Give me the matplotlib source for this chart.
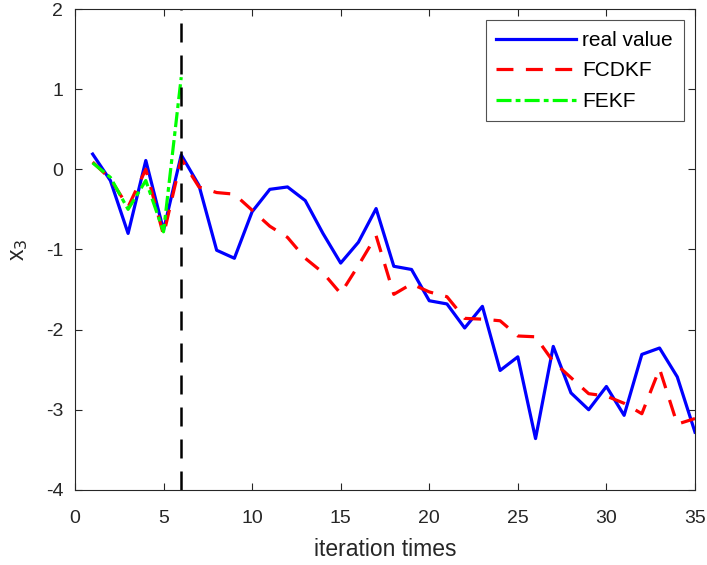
import matplotlib
matplotlib.use('Agg')
import matplotlib.pyplot as plt
import numpy as np

plt.rcParams['font.family'] = ['Liberation Sans', 'DejaVu Sans']
plt.rcParams['axes.unicode_minus'] = False

# real value (x = 1..35)
k = np.arange(1, 36)
real_value = [0.19, -0.14, -0.80, 0.11, -0.76, 0.18, -0.20, -1.01, -1.11, -0.53,
              -0.25, -0.22, -0.39, -0.80, -1.17, -0.91, -0.49, -1.21, -1.25, -1.64,
              -1.68, -1.98, -1.71, -2.51, -2.34, -3.36, -2.21, -2.79, -3.00, -2.71,
              -3.07, -2.31, -2.23, -2.59, -3.28]

fcdkf = [0.09, -0.12, -0.47, 0.00, -0.82, 0.13, -0.22, -0.29, -0.31, -0.51,
         -0.71, -0.85, -1.11, -1.29, -1.55, -1.20, -0.83, -1.56, -1.43, -1.53,
         -1.59, -1.86, -1.87, -1.89, -2.08, -2.09, -2.40, -2.60, -2.80, -2.83,
         -2.92, -3.05, -2.49, -3.18, -3.11]

k_fekf = np.arange(1, 7)
fekf = [0.08, -0.10, -0.50, -0.14, -0.78, 1.15]

switch_x = 6

fig = plt.figure(figsize=(7.07, 5.65), dpi=100)
ax = fig.add_axes([0.106, 0.133, 0.877, 0.851])

ax.plot(k, real_value, color='#0000ff', lw=2.3, label='real value')
ax.plot(k, fcdkf, color='#ff0000', lw=2.3, dashes=(5.3, 3.9), label='FCDKF')
ax.plot(k_fekf, fekf, color='#00ff00', lw=2.3, dashes=(4.7, 1.3, 1.5, 1.3), label='FEKF')
ax.axvline(switch_x, color='k', lw=1.8, dashes=(7.6, 5.2))

ax.set_xlim(0, 35)
ax.set_ylim(-4, 2)
ax.set_xticks(np.arange(0, 36, 5))
ax.set_yticks(np.arange(-4, 3, 1))
ax.tick_params(direction='in', top=True, right=True, length=5, width=0.8,
               labelsize=14, colors='#262626')
ax.tick_params(axis='x', pad=14.5)
ax.tick_params(axis='y', pad=8.5)
for s in ax.spines.values():
    s.set_color('#262626')
    s.set_linewidth(0.8)

ax.set_xlabel('iteration times', fontsize=16.5, color='#262626', labelpad=8)
ax.set_ylabel('x$_3$', fontsize=16.5, color='#262626', labelpad=11)

leg = ax.legend(loc='upper right', fontsize=15, handlelength=3.85, frameon=True,
                fancybox=False, edgecolor='#262626', borderaxespad=0.55,
                handletextpad=0.3, labelspacing=0.55, borderpad=0.5)
leg.get_frame().set_linewidth(0.8)

fig.savefig('out.png', dpi=100)
